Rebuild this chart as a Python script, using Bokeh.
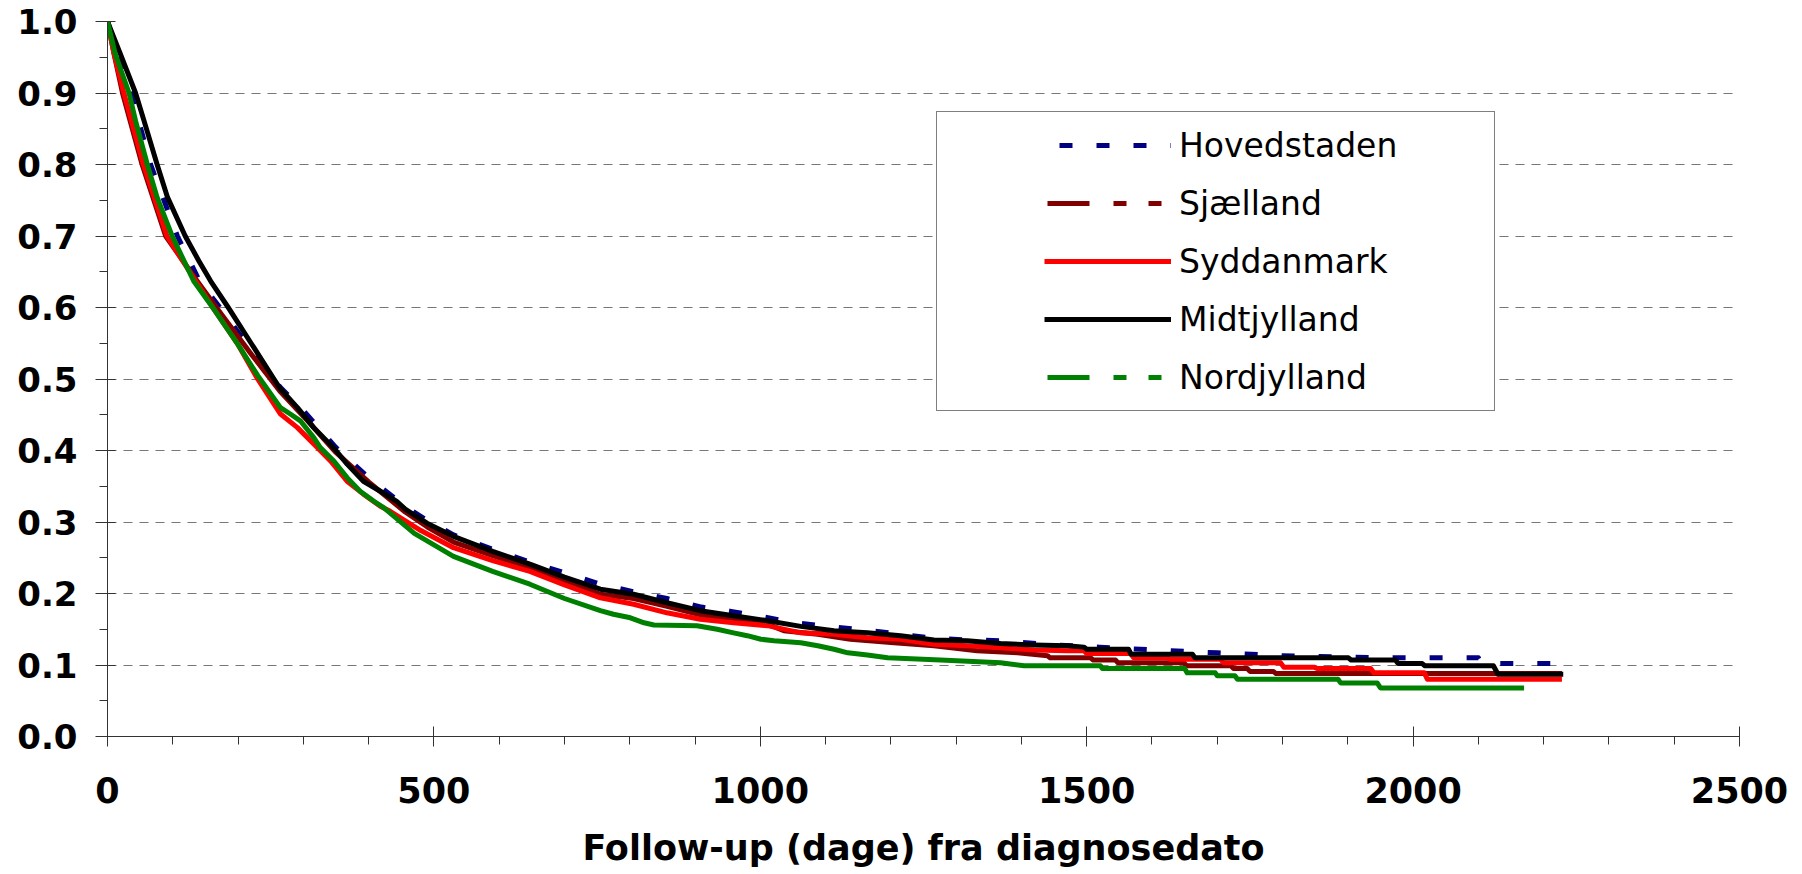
from bokeh.plotting import figure
from bokeh.models import Range1d, FixedTicker, PrintfTickFormatter, Legend, LegendItem
from bokeh.embed import file_html
from bokeh.resources import INLINE

# ---------------- data ----------------
regions = ["Hovedstaden", "Sjælland", "Syddanmark", "Midtjylland", "Nordjylland"]

hoved_t = [0, 18, 36, 66, 107, 141, 185, 220, 265, 300, 349, 400, 456, 490, 530, 590, 647, 700, 755, 813,
           857, 910, 955, 1000, 1055, 1104, 1156, 1199, 1259, 1318, 1368, 1450, 1520, 1582, 1650, 1700, 1800,
           1950, 2100, 2105, 2222]
hoved_s = [1.0, 0.95, 0.9, 0.8, 0.7, 0.637, 0.585, 0.54, 0.488, 0.456, 0.405, 0.362, 0.322, 0.302, 0.282, 0.262,
           0.244, 0.229, 0.213, 0.201, 0.193, 0.181, 0.175, 0.168, 0.159, 0.154, 0.149, 0.145, 0.138, 0.135,
           0.134, 0.128, 0.125, 0.122, 0.119, 0.117, 0.113, 0.110, 0.110, 0.102, 0.102]

sjael_t = [0, 10, 23, 53, 89, 135, 175, 220, 265, 300, 349, 400, 456, 490, 530, 590, 647, 700, 755, 806,
           857, 908, 959, 1011, 1036, 1088, 1138, 1205, 1266, 1332, 1394, 1440, 1444, 1506, 1510, 1544, 1548,
           1649, 1653, 1721, 1725, 1746, 1750, 1786, 1790, 2228]
sjael_s = [1.0, 0.955, 0.9, 0.8, 0.7, 0.64, 0.59, 0.535, 0.482, 0.448, 0.398, 0.356, 0.314, 0.293, 0.272, 0.253,
           0.236, 0.218, 0.199, 0.193, 0.182, 0.170, 0.163, 0.157, 0.148, 0.143, 0.136, 0.131, 0.127, 0.120,
           0.117, 0.113, 0.110, 0.110, 0.107, 0.107, 0.103, 0.103, 0.099, 0.099, 0.095, 0.095, 0.091, 0.091,
           0.088, 0.088]

syd_t = [0, 10, 25, 55, 91, 135, 165, 200, 230, 265, 291, 316, 342, 367, 392, 418, 433, 480, 530, 590,
         647, 700, 755, 806, 857, 908, 959, 1011, 1062, 1113, 1164, 1215, 1266, 1317, 1368, 1419, 1470, 1496,
         1500, 1567, 1572, 1623, 1628, 1705, 1710, 1797, 1802, 1848, 1853, 1935, 1940, 2017, 2022, 2228]
syd_s = [1.0, 0.955, 0.9, 0.8, 0.7, 0.637, 0.595, 0.548, 0.5, 0.451, 0.432, 0.409, 0.385, 0.357, 0.339, 0.322,
         0.315, 0.288, 0.264, 0.246, 0.231, 0.212, 0.194, 0.185, 0.173, 0.164, 0.159, 0.155, 0.145, 0.143,
         0.138, 0.136, 0.129, 0.127, 0.124, 0.121, 0.120, 0.120, 0.116, 0.116, 0.110, 0.110, 0.108, 0.108,
         0.103, 0.103, 0.097, 0.097, 0.095, 0.095, 0.089, 0.089, 0.080, 0.080]

midt_t = [0, 20, 43, 56, 76, 92, 119, 140, 158, 185, 220, 255, 265, 291, 316, 349, 367, 392, 418, 443,
          456, 490, 530, 590, 647, 700, 755, 806, 857, 908, 959, 1011, 1062, 1113, 1164, 1215, 1266, 1317,
          1368, 1419, 1470, 1496, 1500, 1564, 1568, 1662, 1666, 1901, 1905, 1973, 1977, 2014, 2018, 2123,
          2130, 2230]
midt_s = [1.0, 0.954, 0.9, 0.861, 0.8, 0.754, 0.7, 0.665, 0.637, 0.6, 0.55, 0.5, 0.486, 0.46, 0.432, 0.401,
          0.381, 0.357, 0.343, 0.329, 0.318, 0.298, 0.28, 0.259, 0.241, 0.223, 0.206, 0.199, 0.187, 0.176,
          0.169, 0.162, 0.154, 0.148, 0.145, 0.141, 0.135, 0.134, 0.130, 0.128, 0.127, 0.125, 0.122, 0.122,
          0.115, 0.115, 0.110, 0.110, 0.107, 0.107, 0.102, 0.102, 0.099, 0.099, 0.087, 0.087]

nord_t = [0, 12, 33, 43, 61, 76, 99, 132, 165, 200, 230, 265, 280, 296, 316, 326, 347, 367, 387, 408,
          423, 470, 530, 590, 647, 700, 755, 775, 801, 822, 837, 903, 934, 959, 980, 1001, 1021, 1062, 1088,
          1113, 1134, 1164, 1195, 1276, 1368, 1404, 1521, 1524, 1650, 1654, 1697, 1700, 1727, 1731, 1885,
          1889, 1945, 1950, 2170]
nord_s = [1.0, 0.954, 0.9, 0.861, 0.8, 0.754, 0.7, 0.637, 0.595, 0.548, 0.505, 0.46, 0.451, 0.441, 0.418,
          0.404, 0.385, 0.362, 0.343, 0.329, 0.32, 0.284, 0.252, 0.231, 0.213, 0.193, 0.176, 0.171, 0.166,
          0.159, 0.156, 0.155, 0.150, 0.145, 0.141, 0.136, 0.134, 0.131, 0.127, 0.122, 0.117, 0.114, 0.110,
          0.107, 0.103, 0.099, 0.099, 0.095, 0.095, 0.089, 0.089, 0.085, 0.085, 0.080, 0.080, 0.075, 0.075,
          0.068, 0.068]

x_tick_values = [0, 500, 1000, 1500, 2000, 2500]
y_tick_values = [0.0, 0.1, 0.2, 0.3, 0.4, 0.5, 0.6, 0.7, 0.8, 0.9, 1.0]
x_title = "Follow-up (dage) fra diagnosedato"

# ---------------- styles ----------------
series = [(hoved_t, hoved_s), (sjael_t, sjael_s), (syd_t, syd_s), (midt_t, midt_s), (nord_t, nord_s)]
colors = ["#000080", "#800000", "#FF0000", "#000000", "#008000"]
plot_dash = ["13 24", "solid", "solid", "solid", "solid"]
# legend sample patterns: a trailing long gap + offset gives the blank lead-in inside the legend box
legend_dash = ["13 24 13 24 13 24 13 200", "42 24 13 22 13 200", "127 200", "127 200", "42 24 13 22 13 200"]
legend_offset = [215, 217, 233, 233, 217]

FONT = "DejaVu Sans"

p = figure(width=1802, height=874, output_backend="svg", toolbar_location=None,
           x_range=Range1d(0, 2500), y_range=Range1d(0, 1),
           min_border_left=107, min_border_right=63, min_border_top=21, min_border_bottom=138)
p.outline_line_color = None
p.background_fill_color = "white"
p.border_fill_color = "white"

# axes
p.xaxis.ticker = FixedTicker(ticks=x_tick_values,
                             minor_ticks=[v for v in range(0, 2501, 100)])
p.yaxis.ticker = FixedTicker(ticks=y_tick_values,
                             minor_ticks=[round(i * 0.05, 2) for i in range(21)])
p.xaxis.formatter = PrintfTickFormatter(format="%d")
p.yaxis.formatter = PrintfTickFormatter(format="%.1f")

for ax in (p.xaxis, p.yaxis):
    ax.axis_line_color = "#333333"
    ax.axis_line_width = 1
    ax.major_tick_line_color = "#333333"
    ax.minor_tick_line_color = "#333333"
    ax.major_label_text_font = FONT
    ax.major_label_text_font_style = "bold"
    ax.major_label_text_color = "black"

p.yaxis.major_label_text_font_size = "34px"
p.xaxis.major_label_text_font_size = "35px"

p.xaxis.major_tick_in = 10
p.xaxis.major_tick_out = 10
p.xaxis.minor_tick_in = 0
p.xaxis.minor_tick_out = 8
p.xaxis.major_label_standoff = 30
p.xaxis.axis_label = x_title
p.xaxis.axis_label_text_font = FONT
p.xaxis.axis_label_text_font_style = "bold"
p.xaxis.axis_label_text_font_size = "35px"
p.xaxis.axis_label_text_color = "black"
p.xaxis.axis_label_standoff = 22

p.yaxis.major_tick_in = 8
p.yaxis.major_tick_out = 12
p.yaxis.minor_tick_in = 0
p.yaxis.minor_tick_out = 8
p.yaxis.major_label_standoff = 18

p.xgrid.visible = False
p.ygrid.grid_line_color = "#777777"
p.ygrid.grid_line_dash = "9 7"
p.ygrid.grid_line_width = 1

# curves
for (t, s), c, d in zip(series, colors, plot_dash):
    p.line(t, s, line_color=c, line_width=5, line_dash=d, line_join="round")

# legend-only renderers (a single NaN point draws nothing in the plot)
nan = float("nan")
items = []
for name, c, d, o in zip(regions, colors, legend_dash, legend_offset):
    r = p.line([nan], [nan], line_color=c, line_width=5, line_dash=d, line_dash_offset=o)
    items.append(LegendItem(label=name, renderers=[r]))

legend = Legend(items=items, location=(829, 325), orientation="vertical",
                padding=13, spacing=18, margin=0,
                glyph_width=221, glyph_height=40, label_height=40,
                label_standoff=8, label_width=302,
                label_text_font=FONT, label_text_font_size="33px", label_text_color="black",
                border_line_color="black", border_line_width=1,
                background_fill_color="white", background_fill_alpha=1.0)
p.add_layout(legend, "center")

open("out.html", "w").write(file_html(p, INLINE))
